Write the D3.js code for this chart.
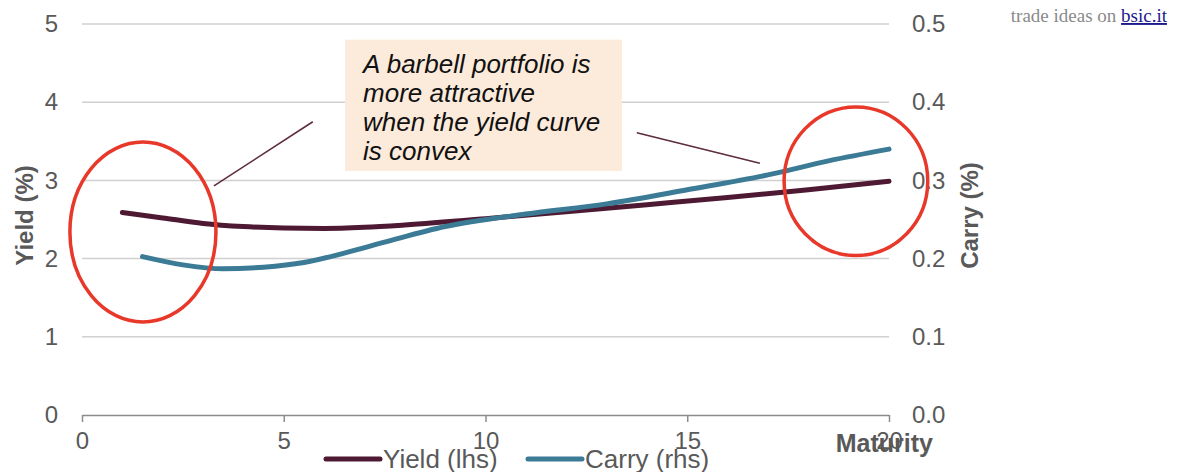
<!DOCTYPE html>
<html>
<head>
<meta charset="utf-8">
<script src="https://cdn.jsdelivr.net/npm/d3@7"></script>
<style>
  body { margin: 0; background: #fff; }
  svg text { font-family: "Liberation Sans", Arial, sans-serif; }
</style>
</head>
<body>
<div id="chart"></div>
<script>
// data
const yieldMaturity = [1, 2, 3, 4, 5, 6, 7, 8, 10, 12, 14, 16, 18, 20];
const yieldValues = [2.59, 2.52, 2.45, 2.41, 2.39, 2.385, 2.40, 2.43, 2.51, 2.60, 2.69, 2.78, 2.88, 2.99];
const carryMaturity = [1.5, 2.5, 3.5, 4.5, 5.5, 6.5, 7.5, 9, 11, 13, 15, 17, 18.5, 20];
const carryValues = [0.2025, 0.192, 0.187, 0.189, 0.195, 0.207, 0.221, 0.241, 0.257, 0.270, 0.288, 0.307, 0.325, 0.340];
const xTicks = [0, 5, 10, 15, 20];
const leftTicks = [0, 1, 2, 3, 4, 5];
const rightTicks = [0, 0.1, 0.2, 0.3, 0.4, 0.5];
const noteLines = ["A barbell portfolio is", "more attractive", "when the yield curve", "is convex"];

const size = {width: 1184, height: 472};
const margin = {top: 24, right: 295, bottom: 57, left: 82};
const width = size.width - margin.left - margin.right;
const height = size.height - margin.top - margin.bottom;

const tickColor = "#595959";
const yieldColor = "#4e1a33";
const carryColor = "#3b7b96";

const svg = d3.select("#chart").append("svg")
    .attr("width", size.width)
    .attr("height", size.height);

const g = svg.append("g")
    .attr("transform", "translate(" + margin.left + "," + margin.top + ")");

const xScale = d3.scaleLinear().domain([0, 20]).range([0, width]);
const yLeft = d3.scaleLinear().domain([0, 5]).range([height, 0]);
const yRight = d3.scaleLinear().domain([0, 0.5]).range([height, 0]);

// gridlines
g.append("g").selectAll("line")
    .data(leftTicks.filter(d => d > 0))
    .join("line")
    .attr("x1", 0).attr("x2", width)
    .attr("y1", d => yLeft(d)).attr("y2", d => yLeft(d))
    .attr("stroke", "#d0d0d0")
    .attr("stroke-width", 1.5);

// x axis
const xAxisG = g.append("g")
    .attr("transform", "translate(0," + height + ")")
    .call(d3.axisBottom(xScale).tickValues(xTicks).tickSize(7).tickPadding(10).tickSizeOuter(0));
xAxisG.select(".domain").attr("stroke", "#8c8c8c").attr("stroke-width", 1.5);
xAxisG.selectAll(".tick line").attr("stroke", "#8c8c8c").attr("stroke-width", 1.5);
xAxisG.selectAll(".tick text")
    .attr("fill", tickColor)
    .style("font-size", "24px")
    .style("font-family", "Liberation Sans, Arial, sans-serif");

// left axis labels
const yLeftG = g.append("g")
    .call(d3.axisLeft(yLeft).tickValues(leftTicks).tickSize(0).tickPadding(24).tickFormat(d3.format("d")));
yLeftG.select(".domain").remove();
yLeftG.selectAll(".tick text")
    .attr("fill", tickColor)
    .style("font-size", "24px")
    .style("font-family", "Liberation Sans, Arial, sans-serif");

// right axis labels
const yRightG = g.append("g")
    .attr("transform", "translate(" + width + ",0)")
    .call(d3.axisRight(yRight).tickValues(rightTicks).tickSize(0).tickPadding(23).tickFormat(d3.format(".1f")));
yRightG.select(".domain").remove();
yRightG.selectAll(".tick text")
    .attr("fill", tickColor)
    .style("font-size", "24px")
    .style("font-family", "Liberation Sans, Arial, sans-serif");

// axis titles
g.append("text")
    .attr("transform", "rotate(-90)")
    .attr("x", -height / 2 + 4)
    .attr("y", -57)
    .attr("dy", "0.35em")
    .attr("text-anchor", "middle")
    .attr("fill", tickColor)
    .style("font-size", "24px")
    .style("font-weight", "bold")
    .text("Yield (%)");

g.append("text")
    .attr("transform", "rotate(-90)")
    .attr("x", -height / 2 + 4)
    .attr("y", width + 81)
    .attr("dy", "0.35em")
    .attr("text-anchor", "middle")
    .attr("fill", tickColor)
    .style("font-size", "24px")
    .style("font-weight", "bold")
    .text("Carry (%)");

g.append("text")
    .attr("x", width + 44)
    .attr("y", height + 37)
    .attr("text-anchor", "end")
    .attr("fill", tickColor)
    .style("font-size", "25px")
    .style("font-weight", "bold")
    .text("Maturity");

// lines
const yieldData = yieldMaturity.map((m, i) => ({m: m, v: yieldValues[i]}));
const carryData = carryMaturity.map((m, i) => ({m: m, v: carryValues[i]}));

const yieldLine = d3.line().x(d => xScale(d.m)).y(d => yLeft(d.v)).curve(d3.curveMonotoneX);
const carryLine = d3.line().x(d => xScale(d.m)).y(d => yRight(d.v)).curve(d3.curveMonotoneX);

g.append("path")
    .datum(yieldData)
    .attr("d", yieldLine)
    .attr("fill", "none")
    .attr("stroke", yieldColor)
    .attr("stroke-width", 5)
    .attr("stroke-linecap", "round");

g.append("path")
    .datum(carryData)
    .attr("d", carryLine)
    .attr("fill", "none")
    .attr("stroke", carryColor)
    .attr("stroke-width", 5)
    .attr("stroke-linecap", "round");

// annotation box (in data coordinates of left axis)
const box = {x0: 6.52, x1: 13.38, y0: 4.8, y1: 3.12};
g.append("rect")
    .attr("x", xScale(box.x0))
    .attr("y", yLeft(box.y0))
    .attr("width", xScale(box.x1) - xScale(box.x0))
    .attr("height", yLeft(box.y1) - yLeft(box.y0))
    .attr("fill", "#fcebdb");

g.append("g").selectAll("text")
    .data(noteLines)
    .join("text")
    .attr("x", xScale(box.x0) + 18)
    .attr("y", (d, i) => yLeft(box.y0) + 33 + i * 29)
    .attr("fill", "#111")
    .style("font-size", "26px")
    .style("font-style", "italic")
    .text(d => d);

// connector lines
const connectors = [
    {x1: 3.27, y1: 2.93, x2: 5.72, y2: 3.75},
    {x1: 13.75, y1: 3.61, x2: 16.8, y2: 3.22}
];
g.append("g").selectAll("line")
    .data(connectors)
    .join("line")
    .attr("x1", d => xScale(d.x1)).attr("y1", d => yLeft(d.y1))
    .attr("x2", d => xScale(d.x2)).attr("y2", d => yLeft(d.y2))
    .attr("stroke", "#5e2b40")
    .attr("stroke-width", 1.6);

// red ellipses
const rings = [
    {cx: 1.51, cy: 2.34, rx: 1.81, ry: 1.15},
    {cx: 19.18, cy: 2.99, rx: 1.78, ry: 0.95}
];
g.append("g").selectAll("ellipse")
    .data(rings)
    .join("ellipse")
    .attr("cx", d => xScale(d.cx))
    .attr("cy", d => yLeft(d.cy))
    .attr("rx", d => xScale(d.rx) - xScale(0))
    .attr("ry", d => yLeft(0) - yLeft(d.ry))
    .attr("fill", "none")
    .attr("stroke", "#e8382a")
    .attr("stroke-width", 3.5);

// legend
const legendItems = [
    {label: "Yield (lhs)", color: yieldColor, x: 326},
    {label: "Carry (rhs)", color: carryColor, x: 528}
];
const legend = svg.append("g").selectAll("g")
    .data(legendItems)
    .join("g")
    .attr("transform", d => "translate(" + d.x + ",459)");
legend.append("line")
    .attr("x1", 0).attr("x2", 54)
    .attr("stroke", d => d.color)
    .attr("stroke-width", 5)
    .attr("stroke-linecap", "round");
legend.append("text")
    .attr("x", 57)
    .attr("dy", "0.35em")
    .attr("fill", tickColor)
    .style("font-size", "26px")
    .text(d => d.label);

// watermark
const wm = svg.append("text")
    .attr("x", 1167)
    .attr("y", 22)
    .attr("text-anchor", "end")
    .style("font-family", "Liberation Serif, 'Times New Roman', serif")
    .style("font-size", "19px");
wm.append("tspan").attr("fill", "#8a8a8a").text("trade ideas on ");
wm.append("tspan").attr("fill", "#1a1a8c").attr("text-decoration", "underline").text("bsic.it");
</script>
</body>
</html>
